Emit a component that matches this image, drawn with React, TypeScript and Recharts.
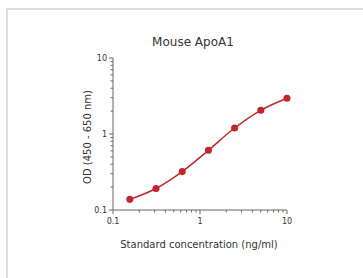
import React from "react";
import { CartesianGrid, Line, LineChart, XAxis, YAxis } from "recharts";

const concentrations = [0.156, 0.312, 0.625, 1.25, 2.5, 5, 10];
const odValues = [0.138, 0.192, 0.32, 0.61, 1.2, 2.05, 2.95];

const majorTicks = [0.1, 1, 10];
const logTicks = [0.1, 0.2, 0.3, 0.4, 0.5, 0.6, 0.7, 0.8, 0.9, 1, 2, 3, 4, 5, 6, 7, 8, 9, 10];

const rows = concentrations.map((c, i) => ({ conc: c, od: odValues[i] }));

const font = "'DejaVu Sans', Verdana, sans-serif";
const red = "#c1272d";
const axisColor = "#666";

function isMajor(v: number) {
  return majorTicks.some((m) => Math.abs(m - v) < 1e-9);
}

function XTick(props: any) {
  const { x, y, payload } = props;
  const major = isMajor(payload.value);
  return (
    <g>
      <line x1={x} x2={x} y1={y} y2={y + (major ? 4 : 2.5)} stroke={axisColor} strokeWidth={1} />
      {major && (
        <text x={x} y={y + 14} textAnchor="middle" fontSize={8} fill="#333" fontFamily={font}>
          {payload.value}
        </text>
      )}
    </g>
  );
}

function YTick(props: any) {
  const { x, y, payload } = props;
  const major = isMajor(payload.value);
  return (
    <g>
      <line x1={x} x2={x - (major ? 4 : 2.5)} y1={y} y2={y} stroke={axisColor} strokeWidth={1} />
      {major && (
        <text x={x - 6} y={y + 3} textAnchor="end" fontSize={8} fill="#333" fontFamily={font}>
          {payload.value}
        </text>
      )}
    </g>
  );
}

export default function App() {
  return (
    <div style={{ position: "absolute", left: 0, top: 0, width: 363, height: 278, background: "#fff", overflow: "hidden" }}>
      <div style={{ position: "absolute", left: 6, top: 8, width: 400, height: 300, borderLeft: "2px solid #dedede", borderTop: "2px solid #dedede" }} />
      <div style={{ position: "absolute", left: 0, top: 35, width: 386, textAlign: "center", fontFamily: font, fontSize: 12, color: "#333" }}>
        Mouse ApoA1
      </div>
      <div style={{ position: "absolute", left: 0, top: 239, width: 398, textAlign: "center", fontFamily: font, fontSize: 10, color: "#333" }}>
        Standard concentration (ng/ml)
      </div>
      <div
        style={{
          position: "absolute",
          left: 88 - 60,
          top: 137 - 7,
          width: 120,
          height: 14,
          lineHeight: "14px",
          textAlign: "center",
          fontFamily: font,
          fontSize: 10,
          color: "#333",
          transform: "rotate(-90deg)",
          transformOrigin: "60px 7px",
        }}
      >
        OD (450 - 650 nm)
      </div>
      <div style={{ position: "absolute", left: 0, top: 0 }}>
        <LineChart width={363} height={278} data={rows} margin={{ top: 58, right: 76, bottom: 38, left: 0 }}>
          <CartesianGrid stroke="none" />
          <XAxis
            dataKey="conc"
            type="number"
            scale="log"
            domain={[0.1, 10]}
            ticks={logTicks}
            interval={0}
            height={30}
            tickSize={0}
            tickMargin={0}
            tickLine={false}
            axisLine={{ stroke: axisColor }}
            tick={<XTick />}
          />
          <YAxis
            dataKey="od"
            type="number"
            scale="log"
            domain={[0.1, 10]}
            ticks={logTicks}
            interval={0}
            width={113}
            tickSize={0}
            tickMargin={0}
            tickLine={false}
            axisLine={{ stroke: axisColor }}
            tick={<YTick />}
          />
          <Line
            type="monotone"
            dataKey="od"
            stroke={red}
            strokeWidth={1.5}
            dot={{ r: 2.8, fill: red, stroke: red }}
            isAnimationActive={false}
          />
        </LineChart>
      </div>
    </div>
  );
}
